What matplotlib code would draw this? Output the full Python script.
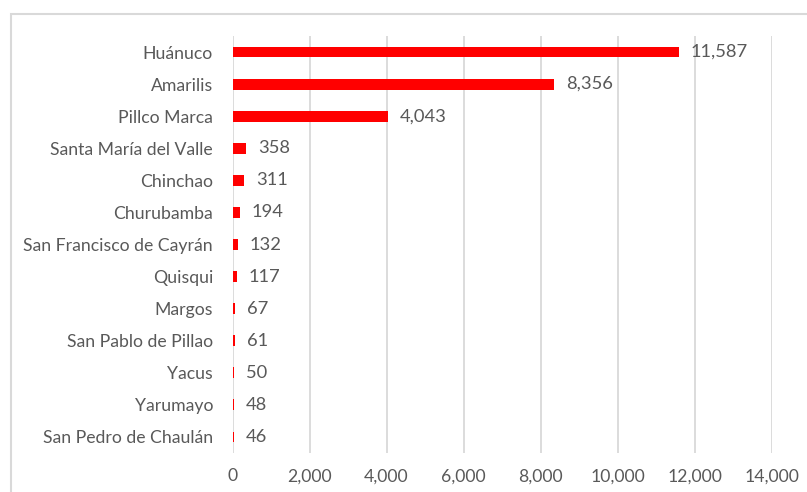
import matplotlib
matplotlib.use("Agg")
from matplotlib import pyplot as plt
from matplotlib.patches import Rectangle

# data (top to bottom)
districts = ["Huánuco", "Amarilis", "Pillco Marca", "Santa María del Valle",
             "Chinchao", "Churubamba", "San Francisco de Cayrán", "Quisqui",
             "Margos", "San Pablo de Pillao", "Yacus", "Yarumayo",
             "San Pedro de Chaulán"]
values = [11587, 8356, 4043, 358, 311, 194, 132, 117, 67, 61, 50, 48, 46]
xticks = [0, 2000, 4000, 6000, 8000, 10000, 12000, 14000]

text_col = "#595959"
grid_col = "#d9d9d9"
plt.rcParams['font.family'] = ['Lato', 'DejaVu Sans']

fig = plt.figure(figsize=(8.07, 4.92), dpi=100)
fig.patches.append(Rectangle((11 / 807, -0.1), 1.1, 1 - 14 / 492 + 0.1,
                             transform=fig.transFigure, fill=False,
                             edgecolor=grid_col, linewidth=1.5))
ax = fig.add_axes([232.5 / 807, 1 - 453 / 492, (771.7 - 232.5) / 807, (453 - 36) / 492])

y = list(range(len(districts)))
ax.barh(y, values, height=0.34, color="#ff0000", zorder=2)
for yi, v in zip(y, values):
    ax.annotate(f"{v:,}", (v, yi), xytext=(8.5, 0), textcoords="offset points",
                va="center", ha="left", fontsize=13.2, color=text_col)

ax.set_xlim(0, 14000)
ax.set_ylim(len(districts) - 0.5, -0.5)
ax.set_yticks(y)
ax.set_yticklabels(districts)
ax.set_xticks(xticks)
ax.set_xticklabels([f"{t:,}" for t in xticks])
ax.tick_params(axis="both", length=0, labelsize=12.7, colors=text_col)
ax.tick_params(axis="x", pad=11)
ax.tick_params(axis="y", pad=14)
ax.xaxis.grid(True, color=grid_col, linewidth=1.3, zorder=3)
for s in ax.spines.values():
    s.set_visible(False)

fig.savefig("out.png", dpi=100)
